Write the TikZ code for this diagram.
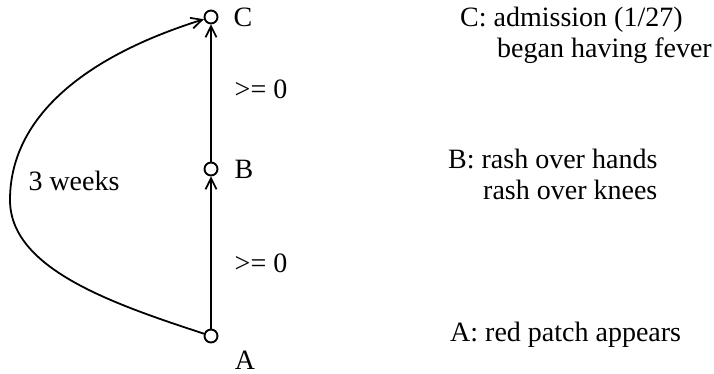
\documentclass[tikz,border=0pt]{standalone}
\usepackage{fontspec}
\setmainfont{Liberation Serif}
\usetikzlibrary{arrows.meta}
\tikzset{
  dot/.style={circle, draw, line width=1.9pt, minimum size=13pt, inner sep=0pt},
  lbl/.style={inner sep=0pt, font=\fontsize{28}{33}\selectfont},
  txt/.style={inner sep=0pt, anchor=base west, font=\fontsize{28}{33}\selectfont},
  conn/.style={line width=1.8pt, -{Straight Barb[length=11pt,width=11pt,line width=1.7pt]}}
}
\begin{document}
\begin{tikzpicture}[x=1pt,y=1pt]
\useasboundingbox (0,0) rectangle (714,-374);
\node[dot] (C) at (211,-17) {};
\node[dot] (B) at (211,-169) {};
\node[dot] (A) at (211,-336) {};
\node[lbl] (lC) at (243,-17) {C};
\node[lbl] (lB) at (244,-169) {B};
\node[lbl] (lA) at (245,-360) {A};
\node[lbl] (g1) at (261,-89) {>= 0};
\node[lbl] (g2) at (261,-263) {>= 0};
\node[lbl] (w) at (74,-181) {3 weeks};
\coordinate (L) at (10,-200);
\draw[conn] (A) -- (B);
\draw[conn] (B) -- (C);
\draw[conn] (A) .. controls (110,-303) and (10,-268) .. (L) .. controls (10,-120) and (80,-58) .. (C);
\node[txt] (tC1) at (460,-27) {C: admission (1/27)};
\node[txt] (tC2) at (497,-58) {began having fever};
\node[txt] (tB1) at (448,-168) {B: rash over hands};
\node[txt] (tB2) at (483,-199) {rash over knees};
\node[txt] (tA) at (450,-341) {A: red patch appears};
\end{tikzpicture}
\end{document}
